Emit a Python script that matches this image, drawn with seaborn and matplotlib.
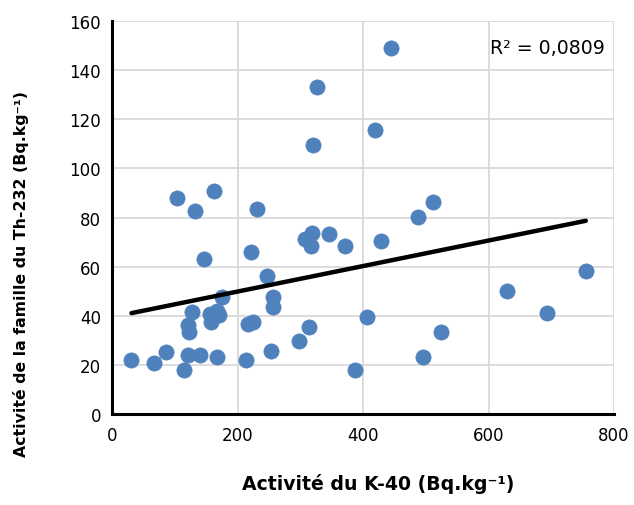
import matplotlib
matplotlib.use("Agg")
import matplotlib.pyplot as plt
import pandas as pd
import seaborn as sns

# K-40 activity (x) vs Th-232 family activity (y)
k40 = [31, 67, 86, 104, 114, 121.6, 121, 123, 127, 133,
       140, 147, 156, 157, 163, 167, 168, 171, 175, 213,
       217, 222, 224, 231, 247.5, 253, 256, 257, 297.5, 307,
       314, 317, 319, 321, 327, 345, 370.5, 388, 406, 419,
       428, 445, 488, 496, 512, 524, 629, 693, 755]
th232 = [22.2, 21.1, 25.2, 88.1, 18.1, 24.2, 36.3, 33.3, 41.6, 82.8,
         24.2, 63.1, 40.8, 37.4, 90.9, 42.1, 23.2, 40.3, 47.6, 22.2,
         36.7, 66.1, 37.5, 83.3, 56.1, 25.6, 47.6, 43.5, 29.7, 71.1,
         35.4, 68.3, 73.6, 109.6, 133.2, 73.3, 68.5, 18.0, 39.4, 115.4,
         70.4, 148.9, 80.4, 23.3, 86.3, 33.3, 50.1, 41.1, 58.1]

x_ticks = [0, 200, 400, 600, 800]
y_ticks = [0, 20, 40, 60, 80, 100, 120, 140, 160]

df = pd.DataFrame({"k40": k40, "th232": th232})

sns.set_style("white")
plt.rcParams['font.family'] = ['DejaVu Sans']
plt.rcParams['text.color'] = 'black'
plt.rcParams['axes.labelcolor'] = 'black'

fig = plt.figure(figsize=(6.34, 5.06), dpi=100)
ax = fig.add_axes([0.1767, 0.179, 0.7918, 0.778])

# Scatter points
sns.scatterplot(data=df, x="k40", y="th232", color="#4F81BD", s=120,
                edgecolor="#4F81BD", linewidth=0.5, zorder=3, ax=ax)

# Linear trend line
sns.regplot(data=df, x="k40", y="th232", scatter=False, ci=None, truncate=True,
            line_kws={"color": "black", "linewidth": 3.2, "zorder": 4}, ax=ax)

ax.set_xlim(0, 800)
ax.set_ylim(0, 160)
ax.set_xticks(x_ticks)
ax.set_yticks(y_ticks)
ax.grid(True, color="#d9d9d9", linewidth=1.3, zorder=0)
ax.set_axisbelow(True)

for side in ["top", "right"]:
    ax.spines[side].set_visible(False)
for side in ["left", "bottom"]:
    ax.spines[side].set_color("black")
    ax.spines[side].set_linewidth(2.2)
    ax.spines[side].set_zorder(5)

ax.tick_params(axis="both", direction="inout", length=8, width=2, colors="black",
               labelcolor="black", labelsize=12, pad=4)

ax.set_xlabel("Activité du K-40 (Bq.kg⁻¹)", fontsize=13.6, fontweight="bold",
              labelpad=21, color="black", x=0.53)
ax.set_ylabel("Activité de la famille du Th-232 (Bq.kg⁻¹)", fontsize=11.3,
              fontweight="bold", labelpad=29, color="black", y=0.36)

ax.text(0.982, 0.931, "R² = 0,0809", transform=ax.transAxes, ha="right", va="center",
        fontsize=13.6, color="black")

fig.savefig("out.png", dpi=100)
